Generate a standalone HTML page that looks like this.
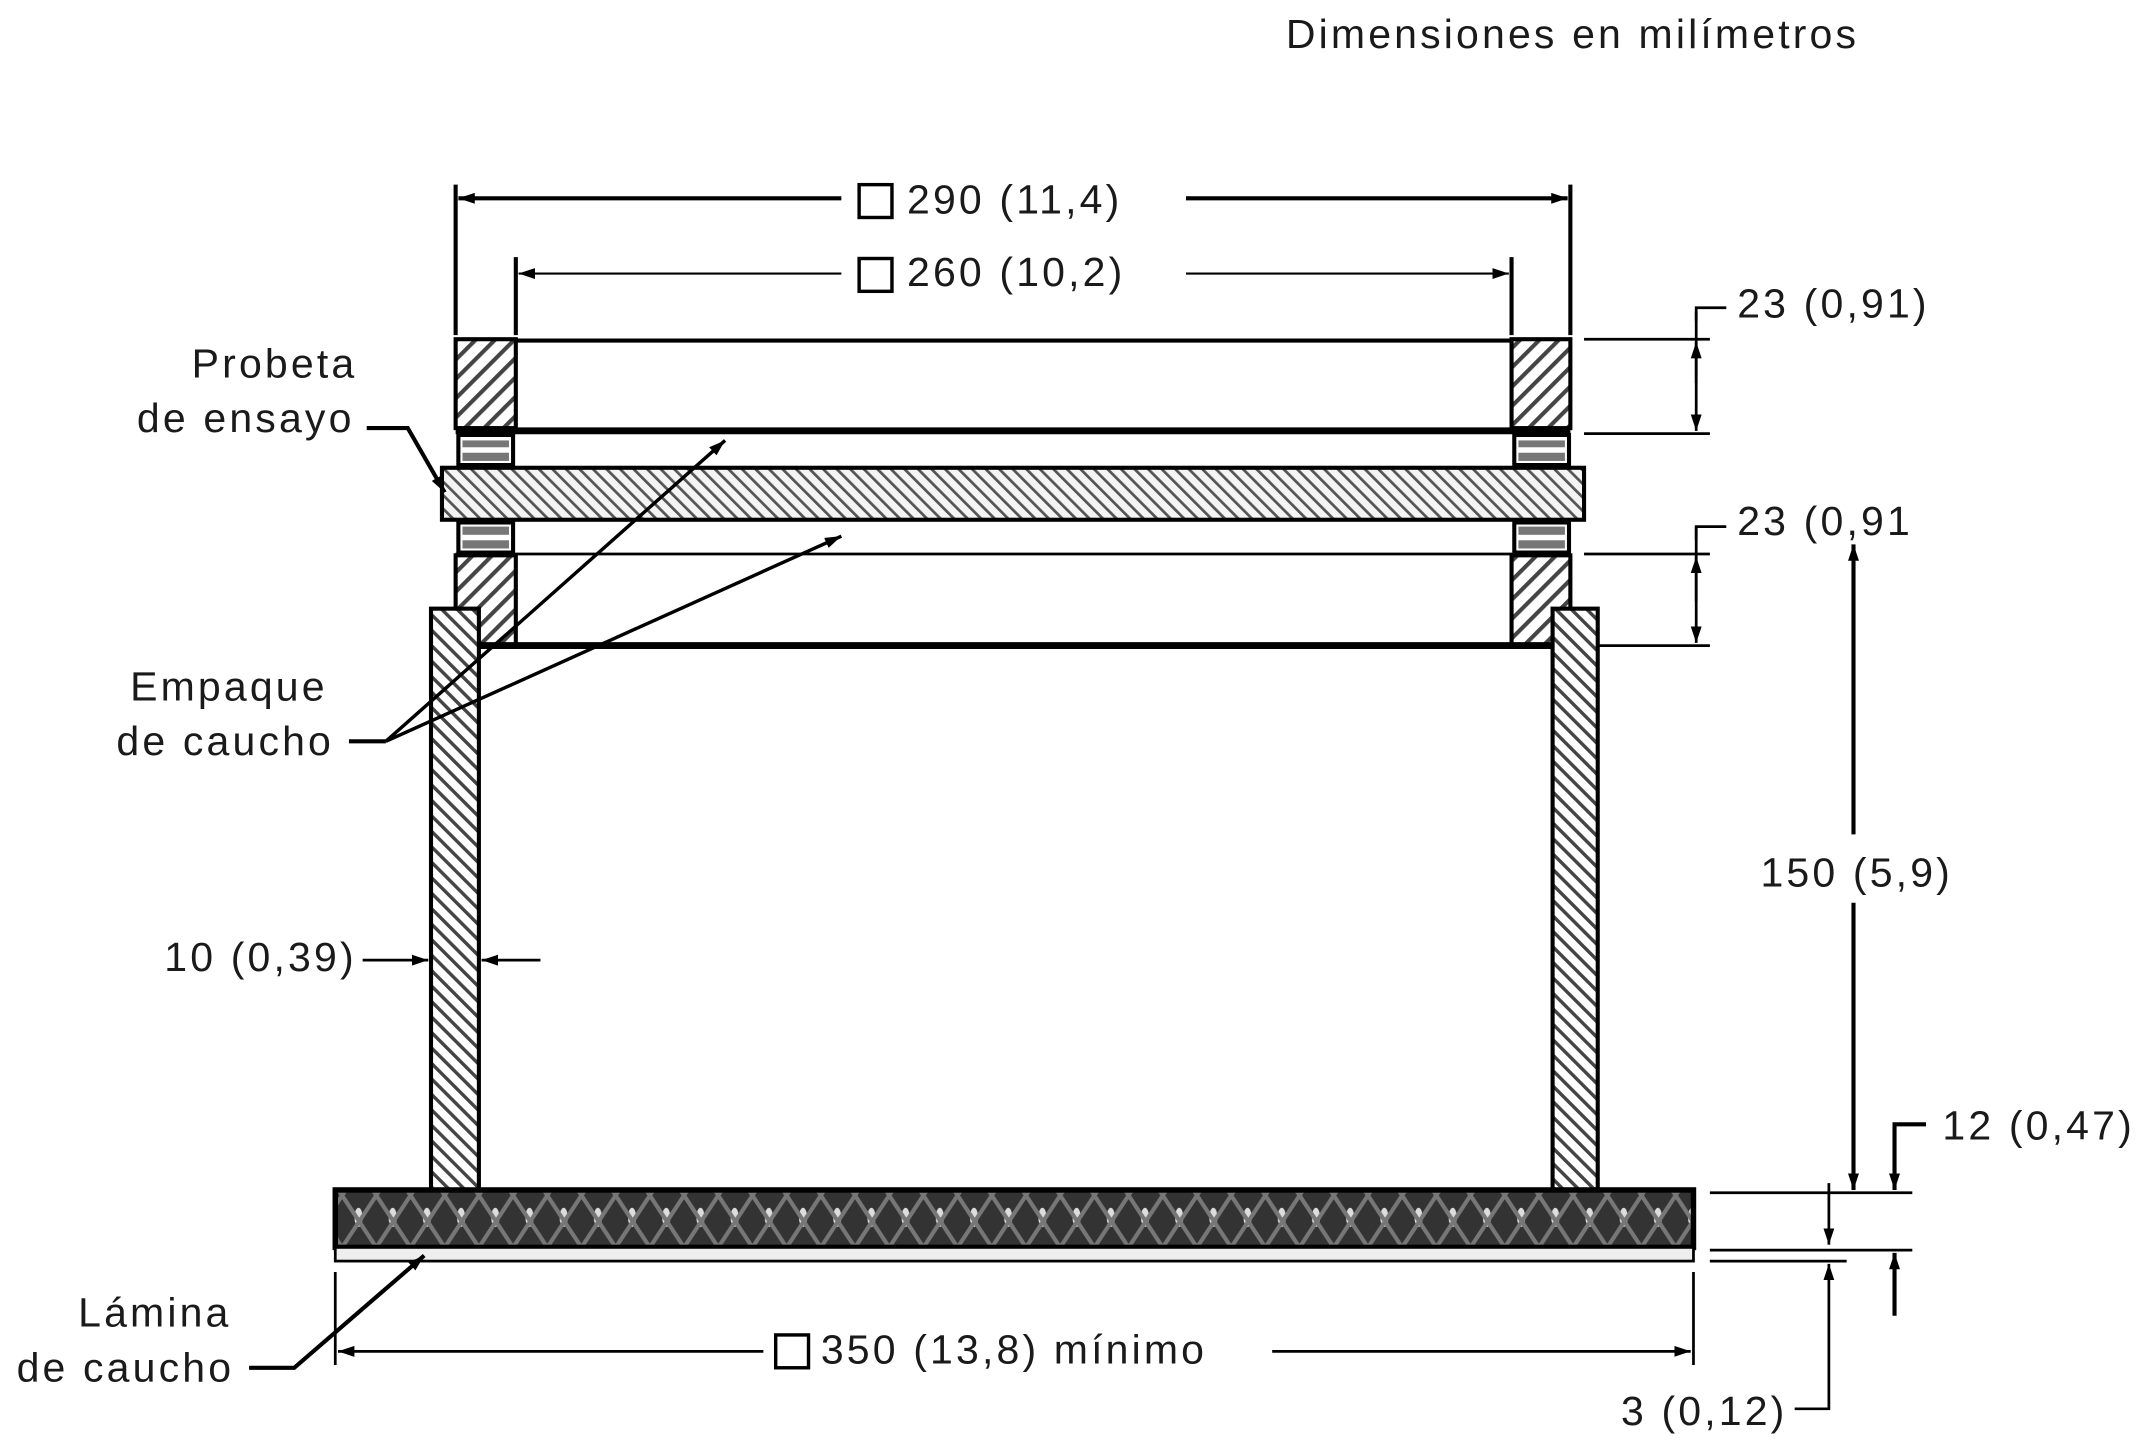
<!DOCTYPE html>
<html><head><meta charset="utf-8"><style>
html,body{margin:0;padding:0;background:#fff;}
svg{display:block;}
text{font-family:"Liberation Sans",sans-serif;font-size:30px;letter-spacing:2.3px;fill:#1a1a1a;}
</style></head><body>
<svg width="2145" height="1443" viewBox="0 0 1568 1055" xmlns="http://www.w3.org/2000/svg">
<defs>
<pattern id="h1" width="10" height="10" patternUnits="userSpaceOnUse" patternTransform="rotate(45)">
<rect width="10" height="10" fill="#fff"/><rect width="3" height="10" fill="#444"/></pattern>
<pattern id="h2" width="7" height="7" patternUnits="userSpaceOnUse" patternTransform="rotate(-45)">
<rect width="7" height="7" fill="#f4f4f4"/><rect width="2" height="7" fill="#555"/></pattern>
<pattern id="h3" width="8" height="8" patternUnits="userSpaceOnUse" patternTransform="rotate(-45)">
<rect width="8" height="8" fill="#fff"/><rect width="2.5" height="8" fill="#444"/></pattern>
<pattern id="rub" width="25" height="38" patternUnits="userSpaceOnUse">
<rect width="25" height="38" fill="#333"/><ellipse cx="12" cy="16" rx="3" ry="7" fill="#ddd"/><path d="M0 0L25 38M25 0L0 38" stroke="#777" stroke-width="3"/></pattern>
<marker id="a" viewBox="0 0 12 8" refX="12" refY="4" markerWidth="12" markerHeight="8" markerUnits="userSpaceOnUse" orient="auto-start-reverse"><path d="M0 0L12 4L0 8z" fill="#000"/></marker>
</defs>
<g stroke="#000" fill="none">
<text x="940" y="35" stroke="none">Dimensiones en milímetros</text>
<line x1="333" y1="135" x2="333" y2="245" stroke-width="3"/>
<line x1="1148" y1="135" x2="1148" y2="245" stroke-width="3"/>
<line x1="335" y1="145" x2="615" y2="145" stroke-width="3" marker-start="url(#a)"/>
<line x1="867" y1="145" x2="1146" y2="145" stroke-width="3" marker-end="url(#a)"/>
<rect x="628" y="135" width="24" height="24" stroke-width="2.5"/>
<text x="663" y="156" stroke="none">290 (11,4)</text>
<line x1="377" y1="188" x2="377" y2="245" stroke-width="3"/>
<line x1="1105" y1="188" x2="1105" y2="245" stroke-width="3"/>
<line x1="379" y1="200" x2="615" y2="200" stroke-width="1.5" marker-start="url(#a)"/>
<line x1="867" y1="200" x2="1103" y2="200" stroke-width="1.5" marker-end="url(#a)"/>
<rect x="628" y="189" width="24" height="24" stroke-width="2.5"/>
<text x="663" y="209" stroke="none">260 (10,2)</text>
<rect x="333" y="248" width="44" height="65" fill="url(#h1)" stroke-width="3"/>
<rect x="1105" y="248" width="43" height="65" fill="url(#h1)" stroke-width="3"/>
<line x1="377" y1="249" x2="1105" y2="249" stroke-width="3"/>
<line x1="333" y1="315" x2="1148" y2="315" stroke-width="5"/>
<rect x="335" y="318" width="40" height="22" fill="#fff" stroke-width="3"/>
<rect x="1107" y="318" width="40" height="22" fill="#fff" stroke-width="3"/>
<g fill="#777" stroke="none"><rect x="338" y="322" width="34" height="5"/><rect x="338" y="331" width="34" height="6"/><rect x="1110" y="322" width="34" height="5"/><rect x="1110" y="331" width="34" height="6"/></g>
<rect x="323" y="342" width="835" height="38" fill="url(#h2)" stroke-width="3"/>
<rect x="335" y="382" width="40" height="22" fill="#fff" stroke-width="3"/>
<rect x="1107" y="382" width="40" height="22" fill="#fff" stroke-width="3"/>
<g fill="#777" stroke="none"><rect x="338" y="385" width="34" height="6"/><rect x="338" y="395" width="34" height="6"/><rect x="1110" y="385" width="34" height="6"/><rect x="1110" y="395" width="34" height="6"/></g>
<line x1="333" y1="405" x2="1148" y2="405" stroke-width="2"/>
<rect x="333" y="406" width="44" height="66" fill="url(#h1)" stroke-width="3"/>
<rect x="1105" y="406" width="43" height="66" fill="url(#h1)" stroke-width="3"/>
<rect x="315" y="445" width="35" height="425" fill="url(#h3)" stroke-width="3"/>
<rect x="1135" y="445" width="33" height="425" fill="url(#h3)" stroke-width="3"/>
<line x1="350" y1="472" x2="1135" y2="472" stroke-width="5"/>
<rect x="245" y="870" width="993" height="42" fill="url(#rub)" stroke-width="4"/>
<rect x="245" y="912" width="993" height="10" fill="#eee" stroke-width="2"/>
<g stroke-width="2">
<line x1="1158" y1="248" x2="1250" y2="248"/><line x1="1158" y1="317" x2="1250" y2="317"/>
<line x1="1240" y1="228" x2="1240" y2="315" marker-end="url(#a)"/><line x1="1240" y1="280" x2="1240" y2="250" marker-end="url(#a)"/>
<polyline points="1262,225 1240,225 1240,235"/>
<line x1="1158" y1="405" x2="1250" y2="405"/><line x1="1168" y1="472" x2="1250" y2="472"/>
<line x1="1240" y1="385" x2="1240" y2="470" marker-end="url(#a)"/><line x1="1240" y1="440" x2="1240" y2="407" marker-end="url(#a)"/>
<polyline points="1262,385 1240,385 1240,395"/>
<line x1="1250" y1="872" x2="1398" y2="872"/><line x1="1250" y1="914" x2="1398" y2="914"/><line x1="1250" y1="922" x2="1350" y2="922"/>
</g>
<text x="1270" y="232" stroke="none">23 (0,91)</text>
<text x="1270" y="391" stroke="none">23 (0,91</text>
<line x1="1355" y1="398" x2="1355" y2="610" stroke-width="3" marker-start="url(#a)"/>
<line x1="1355" y1="660" x2="1355" y2="870" stroke-width="3" marker-end="url(#a)"/>
<text x="1287" y="648" stroke="none">150 (5,9)</text>
<polyline points="1408,822 1385,822 1385,870" stroke-width="3" marker-end="url(#a)"/>
<line x1="1385" y1="962" x2="1385" y2="916" stroke-width="3" marker-end="url(#a)"/>
<text x="1420" y="833" stroke="none">12 (0,47)</text>
<line x1="1337" y1="865" x2="1337" y2="910" stroke-width="2" marker-end="url(#a)"/>
<polyline points="1312,1030 1337,1030 1337,924" stroke-width="2" marker-end="url(#a)"/>
<text x="1185" y="1042" stroke="none">3 (0,12)</text>
<line x1="245" y1="930" x2="245" y2="998" stroke-width="2"/>
<line x1="1238" y1="930" x2="1238" y2="998" stroke-width="2"/>
<line x1="247" y1="988" x2="558" y2="988" stroke-width="2" marker-start="url(#a)"/>
<line x1="930" y1="988" x2="1236" y2="988" stroke-width="2" marker-end="url(#a)"/>
<rect x="567" y="976" width="24" height="24" stroke-width="2.5"/>
<text x="600" y="997" stroke="none">350 (13,8) mínimo</text>
<text x="140" y="276" stroke="none">Probeta</text>
<text x="100" y="316" stroke="none">de ensayo</text>
<path d="M268 313 L298 313 L325 360" stroke-width="3" marker-end="url(#a)"/>
<text x="95" y="512" stroke="none">Empaque</text>
<text x="85" y="552" stroke="none">de caucho</text>
<line x1="255" y1="542" x2="282" y2="542" stroke-width="3"/>
<line x1="282" y1="542" x2="530" y2="322" stroke-width="2.5" marker-end="url(#a)"/>
<line x1="282" y1="542" x2="615" y2="392" stroke-width="2.5" marker-end="url(#a)"/>
<text x="120" y="710" stroke="none">10 (0,39)</text>
<line x1="265" y1="702" x2="313" y2="702" stroke-width="2" marker-end="url(#a)"/>
<line x1="395" y1="702" x2="352" y2="702" stroke-width="2" marker-end="url(#a)"/>
<text x="57" y="970" stroke="none">Lámina</text>
<text x="12" y="1010" stroke="none">de caucho</text>
<polyline points="182,1000 215,1000 310,918" stroke-width="3" marker-end="url(#a)"/>
</g>
</svg>
</body></html>
